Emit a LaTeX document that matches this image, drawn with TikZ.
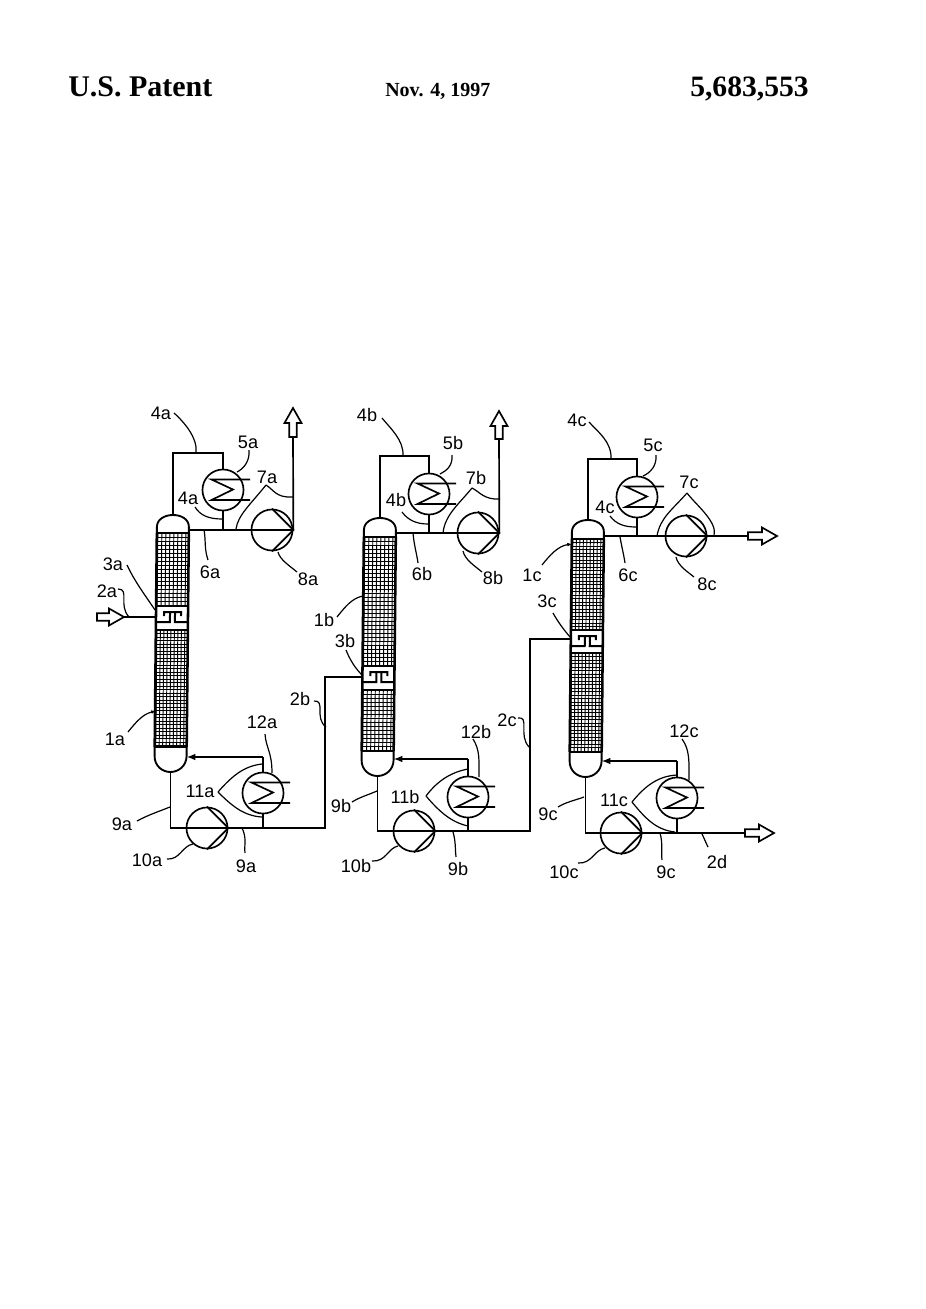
\documentclass[tikz,border=0pt]{standalone}
\usepackage{fontspec}
\setmainfont{Liberation Sans}
\newfontfamily\hdr{Liberation Serif}
\usetikzlibrary{arrows.meta,calc}
\tikzset{
  pipe/.style={line width=1.25pt,line join=miter},
  side/.style={line width=1.9pt},
  gridl/.style={line width=0.72pt},
  leader/.style={line width=0.9pt},
  circ/.style={circle,draw,line width=1.25pt,minimum size=30.8pt,inner sep=0pt,fill=white},
  lab/.style={font=\fontsize{13.6pt}{14pt}\selectfont,inner sep=1pt},
  tip/.style={-{Latex[length=6.5pt,width=5pt]}},
  smalltip/.style={-{Latex[length=3.5pt,width=2.8pt]}},
  hollow/.style={line width=1.25pt,fill=white},
}
% packing grid: top, bottom, spacing (local y, px)
\newcommand\PackGrid[3]{%
  \begin{scope}
    \clip (0,#1) rectangle (32,#2);
    \pgfmathtruncatemacro\nr{(#2-#1)/#3}
    \foreach \i in {0,...,\nr}{\draw[gridl] (0,{#1+\i*#3}) -- (32,{#1+\i*#3});}
    \pgfmathtruncatemacro\nc{32/#3}
    \foreach \i in {0,...,\nc}{\draw[gridl] ({\i*#3+1},#1) -- ({\i*#3+1},#2);}
  \end{scope}}
% column: letter, x left, y dome top, pack top, box top, box bottom, head top, upper spacing, lower spacing
\newcommand\ColumnUnit[9]{%
  \begin{scope}[shift={(#2,#3)},xslant=0.01]
    \PackGrid{#4}{#5}{#8}
    \PackGrid{#6}{#7}{#9}
    \draw[side] (0,#4) -- (0,#7);
    \draw[side] (32,#4) -- (32,#7);
    \draw[pipe,line width=1.4pt] (0,#4) -- (0,12) .. controls (0,4) and (8,0) .. (16,0) .. controls (24,0) and (32,4) .. (32,12) -- (32,#4);
    \draw[pipe] (0,#4) -- (32,#4);
    \draw[pipe] (0,#5) -- (32,#5);
    \draw[pipe] (0,#6) -- (32,#6);
    \draw[pipe] (0,#7) -- (32,#7);
    \draw[pipe,line width=1.4pt] (0,#7) -- (0,{#7+9}) .. controls (0,{#7+19}) and (8,{#7+25}) .. (16,{#7+25}) .. controls (24,{#7+25}) and (32,{#7+19}) .. (32,{#7+9}) -- (32,#7);
    % tray and bubble cap
    \draw[pipe,line width=1.5pt] (0,{#5+16}) -- (14,{#5+16}) -- (14,{#5+6});
    \draw[pipe,line width=1.5pt] (32,{#5+16}) -- (19,{#5+16}) -- (19,{#5+6});
    \draw[pipe,line width=1.5pt] (8,{#5+10}) -- (8,{#5+6}) -- (25,{#5+6}) -- (25,{#5+10});
    \coordinate (dome#1) at (16,0);
    \coordinate (base#1) at (16,{#7+25});
    \coordinate (lside#1) at (0,{(#5+#6)/2});
    \coordinate (rside#1) at (32,{#7+9});
    \coordinate (rtop#1) at (32,12);
  \end{scope}}
\newcommand\CoilAt[1]{%
  \begin{scope}[shift={(#1.center)}]
    \draw[pipe] (27,-10.5) -- (-11.5,-10.5) -- (10,-0.5) -- (-11.5,10) -- (27,10);
  \end{scope}}
% top unit: letter, condenser, pump, y of top line
\newcommand\TopUnit[4]{%
  \node[circ] (cond#1) at (#2) {};
  \node[circ] (ptop#1) at (#3) {};
  \coordinate (tl#1) at (dome#1 |- 0,#4);
  \draw[pipe] (dome#1) -- (tl#1) -| (cond#1.north);
  \draw[pipe] (cond#1.south) -- (cond#1.south |- ptop#1.center);
  \draw[pipe] (rtop#1 |- ptop#1.center) -- (ptop#1.east);
  \draw[pipe] (ptop#1.north) -- (ptop#1.east) -- (ptop#1.south);
  \CoilAt{cond#1}}
% bottom unit: letter, reboiler, pump, arrow y
\newcommand\BotUnit[4]{%
  \node[circ] (reb#1) at (#2) {};
  \node[circ] (pbot#1) at (#3) {};
  \coordinate (al#1) at (reb#1.north |- 0,#4);
  \draw[pipe] (base#1) -- (base#1 |- pbot#1.center) -- (pbot#1.east);
  \draw[pipe] (pbot#1.north) -- (pbot#1.east) -- (pbot#1.south);
  \draw[pipe] (reb#1.north) -- (al#1);
  \draw[pipe,tip] (al#1) -- (rside#1 |- al#1);
  \draw[pipe] (reb#1.south) -- (reb#1.south |- pbot#1.center);
  \CoilAt{reb#1}}
% hollow arrow: tail coordinate, rotation, length
\newcommand\HollowArrow[3]{%
  \begin{scope}[shift={(#1)},rotate=#2]
    \draw[hollow] (0,-3.7) -- ({#3-15},-3.7) -- ({#3-15},-8.5) -- (#3,0) -- ({#3-15},8.5) -- ({#3-15},3.7) -- (0,3.7) -- cycle;
  \end{scope}}
% label: name, position, text
\newcommand\Lab[3]{\node[lab] (#1) at (#2) {#3};}
% leader: name of free end, its position, style, first point, controls
\newcommand\Lead[5]{%
  \coordinate (s#1) at (#2);
  \coordinate (e#1) at (#3);
  \draw[leader] (s#1) .. controls (#4) and (#5) .. (e#1);}
\newcommand\LeadTip[5]{%
  \coordinate (s#1) at (#2);
  \coordinate (e#1) at (#3);
  \draw[leader,smalltip] (s#1) .. controls (#4) and (#5) .. (e#1);}
\begin{document}
\begin{tikzpicture}[x=0.75pt,y=-0.75pt]
\useasboundingbox (0,0) rectangle (925,1309);
\fill[white] (0,0) rectangle (925,1309);
\node[anchor=base west,inner sep=0pt,font=\hdr\bfseries\fontsize{22.5pt}{24pt}\selectfont] (hl) at (68,97) {U.S. Patent};
\node[anchor=base west,inner sep=0pt,font=\hdr\bfseries\fontsize{15pt}{16pt}\selectfont] (hc) at (385,97) {Nov. 4, 1997};
\node[anchor=base west,inner sep=0pt,font=\hdr\bfseries\fontsize{22.2pt}{24pt}\selectfont] (hr) at (690,97) {5,683,553};

\ColumnUnit{a}{157}{515}{18}{91}{115}{232}{4}{3.5}
\ColumnUnit{b}{364}{518}{19}{148}{172}{233}{4}{4}
\ColumnUnit{c}{572}{520}{19}{110}{133}{232}{3.5}{3.5}

\TopUnit{a}{223,490}{272,530}{453}
\TopUnit{b}{429,494}{478,533}{456}
\TopUnit{c}{637,497}{686,536}{459}
\BotUnit{a}{263,793}{207,828}{757}
\BotUnit{b}{468,797}{414,831}{759}
\BotUnit{c}{677,798}{621,833}{761}

% feed and transfer lines
\coordinate (feedtail) at (97,617);
\coordinate (feedtip) at (124,617);
\draw[pipe] (feedtip) -- (lsidea |- feedtip);
\HollowArrow{feedtail}{0}{27}
\coordinate (bturn) at (325,677);
\draw[pipe] (pbota.east) -- (bturn |- pbota.east) -- (bturn) -- (lsideb |- bturn);
\coordinate (cturn) at (530,639);
\draw[pipe] (pbotb.east) -- (cturn |- pbotb.east) -- (cturn) -- (lsidec |- cturn);
% outlets
\coordinate (outa) at (293,437);
\draw[pipe] (ptopa.east) -- (outa);
\HollowArrow{outa}{90}{29}
\coordinate (outb) at (499,439);
\draw[pipe] (ptopb.east) -- (outb);
\HollowArrow{outb}{90}{28}
\coordinate (outc) at (748,536);
\draw[pipe] (ptopc.east) -- (outc);
\HollowArrow{outc}{0}{29}
\coordinate (outd) at (745,833);
\draw[pipe] (pbotc.east) -- (outd);
\HollowArrow{outd}{0}{29}

% labels
\Lab{l4a}{161,413}{4a}\Lab{l5a}{248,442}{5a}\Lab{l7a}{267,477}{7a}\Lab{l4aa}{188,498}{4a}
\Lab{l3a}{113,564}{3a}\Lab{l2a}{107,591}{2a}\Lab{l6a}{210,572}{6a}\Lab{l8a}{308,579}{8a}
\Lab{l1a}{115,739}{1a}\Lab{l12a}{262,722}{12a}\Lab{l11a}{200,791}{11a}\Lab{l9a}{122,824}{9a}
\Lab{l10a}{147,860}{10a}\Lab{l9aa}{246,866}{9a}\Lab{l2b}{300,699}{2b}
\Lab{l4b}{367,415}{4b}\Lab{l5b}{453,443}{5b}\Lab{l7b}{476,478}{7b}\Lab{l4bb}{396,500}{4b}
\Lab{l6b}{422,574}{6b}\Lab{l8b}{493,578}{8b}\Lab{l1b}{324,620}{1b}\Lab{l3b}{345,641}{3b}
\Lab{l2c}{507,720}{2c}\Lab{l12b}{476,732}{12b}\Lab{l11b}{405,797}{11b}\Lab{l9b}{341,806}{9b}
\Lab{l10b}{356,866}{10b}\Lab{l9bb}{458,869}{9b}
\Lab{l4c}{577,420}{4c}\Lab{l5c}{653,445}{5c}\Lab{l7c}{689,482}{7c}\Lab{l4cc}{605,507}{4c}
\Lab{l1c}{532,575}{1c}\Lab{l6c}{628,575}{6c}\Lab{l8c}{707,584}{8c}\Lab{l3c}{547,601}{3c}
\Lab{l12c}{684,731}{12c}\Lab{l11c}{614,800}{11c}\Lab{l9c}{548,814}{9c}
\Lab{l10c}{564,872}{10c}\Lab{l9cc}{666,872}{9c}\Lab{l2d}{717,862}{2d}

% leaders, unit a
\Lead{A4}{174,413}{196,453}{184,422}{198,438}
\Lead{A5}{249,450}{237,472}{250,462}{243,469}
\Lead{A7b}{236,529}{266,485}{238,515}{250,505}
\Lead{A7c}{266,485}{293,497}{274,490}{276,498}
\Lead{A4l}{195,507}{222,519}{200,515}{208,519}
\Lead{A6}{204,530}{208,560}{206,540}{204,548}
\Lead{A8}{278,552}{297,572}{280,560}{290,566}
\Lead{A3}{127,565}{155,610}{135,582}{145,595}
\Lead{A2}{118,589}{129,617}{130,589}{118,605}
\LeadTip{A1}{128,732}{156,711}{136,722}{143,714}
\Lead{A12}{265,734}{272,773}{266,748}{272,752}
\Lead{A11u}{218,792}{262,764}{232,776}{244,766}
\Lead{A11l}{218,792}{262,817}{232,806}{244,816}
\Lead{A9}{137,821}{170,807}{148,815}{160,811}
\Lead{A10}{167,859}{193,844}{180,860}{182,846}
\Lead{A9b}{242,828}{245,853}{247,838}{244,845}
\Lead{A2b}{314,701}{326,727}{326,700}{314,718}
% leaders, unit b
\Lead{B4}{382,418}{403,456}{390,428}{404,440}
\Lead{B5}{452,455}{440,474}{453,466}{446,471}
\Lead{B7l}{443,533}{472,488}{445,515}{458,505}
\Lead{B7r}{472,488}{500,499}{480,492}{484,500}
\Lead{B4l}{402,512}{428,524}{408,520}{416,524}
\Lead{B6}{413,533}{418,563}{414,545}{417,555}
\Lead{B8}{463,551}{482,572}{465,560}{475,566}
\Lead{B1}{337,617}{363,596}{345,607}{352,598}
\Lead{B3}{346,650}{362,675}{350,660}{355,668}
\Lead{B2c}{518,718}{529,747}{530,716}{518,735}
\Lead{B12}{473,739}{479,777}{480,750}{479,760}
\Lead{B11u}{426,796}{468,769}{438,780}{452,772}
\Lead{B11l}{426,796}{468,826}{438,810}{450,822}
\Lead{B9}{352,802}{377,791}{360,797}{368,795}
\Lead{B10}{372,861}{398,846}{386,862}{388,848}
\Lead{B9b}{453,832}{456,857}{456,842}{455,850}
% leaders, unit c
\Lead{C4}{589,422}{611,459}{598,432}{612,442}
\Lead{C5}{656,455}{643,476}{657,466}{650,473}
\Lead{C7l}{657,536}{687,493}{660,518}{672,510}
\Lead{C7r}{687,493}{714,536}{696,505}{718,522}
\Lead{C4l}{610,516}{636,527}{616,524}{624,527}
\Lead{C6}{620,537}{625,563}{622,548}{624,556}
\Lead{C8}{676,557}{694,577}{678,566}{688,572}
\LeadTip{C1}{542,565}{572,544}{550,555}{558,546}
\Lead{C3}{553,613}{570,637}{558,622}{564,630}
\Lead{C12}{682,739}{689,780}{690,750}{689,762}
\Lead{C11u}{632,802}{677,775}{645,786}{658,776}
\Lead{C11l}{632,802}{675,832}{645,818}{656,830}
\Lead{C9}{558,807}{584,797}{566,802}{576,800}
\Lead{C10}{578,863}{605,848}{592,864}{594,850}
\Lead{C9b}{660,833}{662,860}{663,843}{661,852}
\Lead{D2}{702,834}{708,847}{704,838}{706,843}
\end{tikzpicture}
\end{document}
